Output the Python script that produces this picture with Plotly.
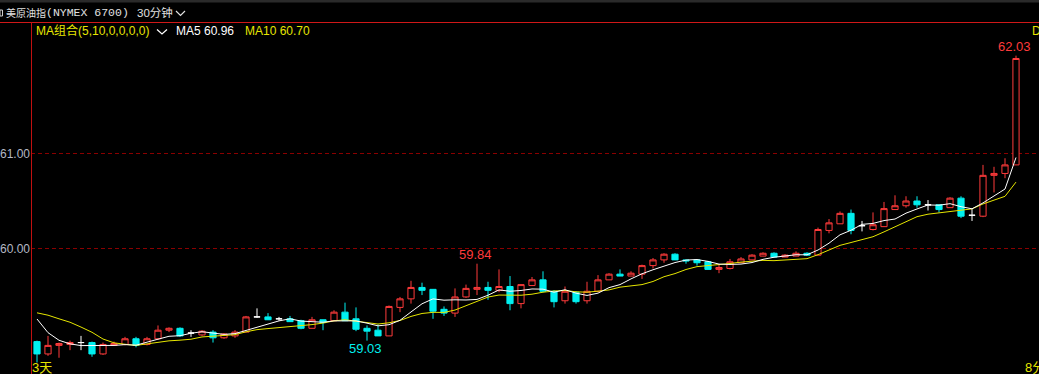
import numpy as np
import plotly.graph_objects as go

# ---------------- data (30-minute bars, oldest first) ----------------
opens = [59.02, 58.89, 58.98, 58.99, 59.01, 59.01, 58.89, 58.98, 58.99, 59.05,
         58.99, 59.05, 59.14, 59.16, 59.11, 59.09, 59.12, 59.06, 59.08, 59.12,
         59.28, 59.28, 59.26, 59.26, 59.24, 59.16, 59.25, 59.24, 59.33, 59.26,
         59.16, 59.14, 59.08, 59.38, 59.47, 59.59, 59.57, 59.36, 59.32, 59.49,
         59.57, 59.59, 59.56, 59.60, 59.42, 59.61, 59.67, 59.55, 59.45, 59.54,
         59.45, 59.55, 59.67, 59.73, 59.71, 59.73, 59.82, 59.88, 59.94, 59.88,
         59.88, 59.86, 59.78, 59.79, 59.85, 59.88, 59.92, 59.95, 59.91, 59.92,
         59.95, 59.93, 60.19, 60.26, 60.37, 60.24, 60.20, 60.23, 60.41, 60.45,
         60.50, 60.46, 60.46, 60.43, 60.53, 60.35, 60.34, 60.77, 60.79, 60.88]
highs = [59.03, 59.08, 59.01, 59.03, 59.08, 59.02, 59.01, 59.02, 59.07, 59.07,
         59.07, 59.19, 59.17, 59.17, 59.14, 59.14, 59.14, 59.11, 59.14, 59.29,
         59.37, 59.32, 59.28, 59.29, 59.25, 59.28, 59.25, 59.35, 59.43, 59.38,
         59.19, 59.20, 59.40, 59.49, 59.66, 59.64, 59.57, 59.39, 59.58, 59.62,
         59.84, 59.65, 59.78, 59.71, 59.62, 59.70, 59.76, 59.56, 59.60, 59.55,
         59.65, 59.72, 59.74, 59.78, 59.76, 59.83, 59.90, 59.95, 59.95, 59.88,
         59.88, 59.87, 59.83, 59.89, 59.91, 59.94, 59.96, 59.96, 59.94, 59.97,
         59.96, 60.22, 60.31, 60.39, 60.41, 60.29, 60.38, 60.49, 60.56, 60.55,
         60.55, 60.51, 60.46, 60.54, 60.55, 60.42, 60.88, 60.86, 60.95, 62.03]
lows = [58.80, 58.87, 58.85, 58.93, 58.93, 58.86, 58.88, 58.98, 58.98, 58.96,
        58.98, 59.04, 59.12, 59.07, 59.07, 59.08, 59.01, 59.05, 59.06, 59.12,
        59.27, 59.25, 59.24, 59.23, 59.15, 59.16, 59.14, 59.24, 59.24, 59.13,
        59.03, 59.08, 59.08, 59.33, 59.42, 59.51, 59.26, 59.29, 59.28, 59.48,
        59.51, 59.46, 59.54, 59.35, 59.37, 59.61, 59.54, 59.38, 59.42, 59.42,
        59.42, 59.54, 59.67, 59.71, 59.71, 59.68, 59.79, 59.85, 59.88, 59.84,
        59.82, 59.78, 59.74, 59.78, 59.85, 59.88, 59.92, 59.91, 59.91, 59.92,
        59.92, 59.93, 60.16, 60.26, 60.15, 60.18, 60.19, 60.23, 60.41, 60.43,
        60.43, 60.40, 60.38, 60.43, 60.32, 60.29, 60.33, 60.59, 60.74, 60.88]
closes = [58.89, 58.98, 59.00, 59.01, 59.01, 58.89, 58.99, 59.00, 59.05, 58.98,
          59.05, 59.14, 59.16, 59.08, 59.11, 59.13, 59.06, 59.10, 59.12, 59.28,
          59.28, 59.25, 59.26, 59.23, 59.16, 59.25, 59.22, 59.33, 59.24, 59.15,
          59.13, 59.08, 59.39, 59.47, 59.59, 59.56, 59.34, 59.32, 59.49, 59.58,
          59.59, 59.56, 59.60, 59.42, 59.62, 59.67, 59.55, 59.44, 59.55, 59.44,
          59.55, 59.67, 59.73, 59.71, 59.74, 59.82, 59.88, 59.94, 59.88, 59.87,
          59.85, 59.78, 59.80, 59.86, 59.89, 59.93, 59.95, 59.91, 59.93, 59.95,
          59.93, 60.20, 60.27, 60.37, 60.19, 60.24, 60.25, 60.42, 60.45, 60.50,
          60.46, 60.46, 60.41, 60.53, 60.34, 60.35, 60.77, 60.79, 60.88, 62.00]
# closes of the 9 bars before the visible window (feed the moving averages)
prior_closes = [59.23, 59.38, 59.37, 59.52, 59.44, 59.70, 59.40, 59.20, 59.10]

ma_periods = [5, 10]
y_ticks = [60.0, 61.0]
y_tick_labels = ["60.00", "61.00"]
extreme_marks = [(89, "high"), (40, "high"), (30, "low")]
title_cn = "美原油指"
title_code = "(NYMEX 6700)"
title_period = "30分钟"
ma_combo_text = "MA组合(5,10,0,0,0,0)"
left_date_label = "3天"
right_date_label = "8分"

# ---------------- derived ----------------
n = len(closes)
xs = np.arange(n)
allc = np.array(prior_closes + closes)
mas = {}
for p in ma_periods:
    m = np.convolve(allc, np.ones(p) / p, mode="valid")
    mas[p] = m[-n:]

o = np.array(opens); h = np.array(highs); l = np.array(lows); c = np.array(closes)
doji = np.isclose(o, c)
nd = ~doji

# ---------------- layout geometry ----------------
W, H = 1039, 374
L, T = 31, 22
PW, PH = W - L, H - T
BAR = 11.0
FIRST = 37.0
PXU = 95.0            # pixels per 1.00 of price
Y61 = 153.5           # pixel row of 61.00
x0 = -(FIRST - L) / BAR
x_range = [x0, x0 + PW / BAR]
y_hi = 61 + (Y61 - T) / PXU
y_range = [y_hi - PH / PXU, y_hi]


def px(x):
    return (x - L) / PW


def py(y):
    return (H - y) / PH


RED = "#ff3b3b"
CYAN = "#00f0f0"
YEL = "#e6e600"
FONT = "Liberation Sans, Noto Sans CJK SC, sans-serif"

fig = go.Figure()
fig.add_trace(go.Candlestick(
    x=xs[nd], open=o[nd], high=h[nd], low=l[nd], close=c[nd],
    increasing=dict(line=dict(color=RED, width=1), fillcolor="#000000"),
    decreasing=dict(line=dict(color=CYAN, width=1), fillcolor=CYAN),
    whiskerwidth=0, showlegend=False, hoverinfo="skip"))
fig.add_trace(go.Candlestick(
    x=xs[doji], open=o[doji], high=h[doji], low=l[doji], close=c[doji],
    increasing=dict(line=dict(color="#ffffff", width=1), fillcolor="#ffffff"),
    decreasing=dict(line=dict(color="#ffffff", width=1), fillcolor="#ffffff"),
    whiskerwidth=0, showlegend=False, hoverinfo="skip"))
fig.add_trace(go.Scatter(x=xs, y=mas[10], mode="lines",
                         line=dict(color=YEL, width=1), showlegend=False, hoverinfo="skip"))
fig.add_trace(go.Scatter(x=xs, y=mas[5], mode="lines",
                         line=dict(color="#ffffff", width=1), showlegend=False, hoverinfo="skip"))

ann = []
for idx, kind in extreme_marks:
    if kind == "high":
        ann.append(dict(x=idx, y=highs[idx], xref="x", yref="y", text=f"{highs[idx]:.2f}",
                        showarrow=False, xanchor="center", yanchor="middle", yshift=9, xshift=-2,
                        font=dict(family=FONT, size=13, color=RED)))
    else:
        ann.append(dict(x=idx, y=lows[idx], xref="x", yref="y", text=f"{lows[idx]:.2f}",
                        showarrow=False, xanchor="center", yanchor="middle", yshift=-8, xshift=-2,
                        font=dict(family=FONT, size=13, color=CYAN)))


def txt(x, y, s, color, size=12, family=FONT):
    ann.append(dict(x=px(x), y=py(y), xref="paper", yref="paper", text=s, showarrow=False,
                    xanchor="left", yanchor="middle", font=dict(family=family, size=size, color=color)))


txt(4, 13, title_cn, "#e0e0e0", 10, "Noto Sans CJK SC")
txt(44, 13, title_code, "#e0e0e0", 11.5, "Liberation Mono")
txt(135, 13, title_period, "#e0e0e0", 11.5, "Liberation Sans, Noto Sans CJK SC")
txt(34, 31, ma_combo_text, YEL, 12)
txt(174, 31, f"MA{ma_periods[0]} {mas[ma_periods[0]][-1]:.2f}", "#ffffff", 12)
txt(243, 31, f"MA{ma_periods[1]} {mas[ma_periods[1]][-1]:.2f}", YEL, 12)
txt(1030, 31, "D", YEL, 12)
txt(30, 367, left_date_label, YEL, 13)
txt(1023, 367, right_date_label, YEL, 13)

shapes = [
    dict(type="rect", xref="paper", yref="paper", x0=px(0), x1=px(W), y0=py(0), y1=py(2.5),
         fillcolor="#2a2a2a", line=dict(width=0), layer="above"),
    dict(type="line", xref="paper", yref="paper", x0=px(0), x1=px(W), y0=py(22.5), y1=py(22.5),
         line=dict(color="#d01818", width=1)),
    dict(type="line", xref="paper", yref="paper", x0=px(31.5), x1=px(31.5), y0=py(22.5), y1=py(H),
         line=dict(color="#c01010", width=1)),
    dict(type="path", xref="paper", yref="paper",
         path=f"M {px(176)},{py(11)} L {px(180.5)},{py(15.5)} L {px(185)},{py(11)}",
         line=dict(color="#e0e0e0", width=1.2)),
    dict(type="path", xref="paper", yref="paper",
         path=f"M {px(157)},{py(29.5)} L {px(162)},{py(34)} L {px(167)},{py(29.5)}",
         line=dict(color="#ffffff", width=1.2)),
    dict(type="rect", xref="paper", yref="paper", x0=px(0), x1=px(2.5), y0=py(10), y1=py(16),
         line=dict(color="#cccccc", width=1)),
]

fig.update_layout(
    width=W, height=H, margin=dict(l=L, r=0, t=T, b=0),
    paper_bgcolor="#000000", plot_bgcolor="#000000",
    annotations=ann, shapes=shapes, showlegend=False, hovermode=False,
    boxgap=0.2,
    xaxis=dict(range=x_range, visible=False, rangeslider=dict(visible=False), fixedrange=True),
    yaxis=dict(range=y_range, tickvals=y_ticks, ticktext=y_tick_labels, showgrid=True,
               gridcolor="#8a0000", griddash="4px,3px", gridwidth=1, zeroline=False,
               showline=False, ticks="", ticklabelstandoff=0,
               tickfont=dict(family=FONT, size=12, color="#b4b8c4"), fixedrange=True),
)

fig.write_html("out.html", config={"displayModeBar": False})
